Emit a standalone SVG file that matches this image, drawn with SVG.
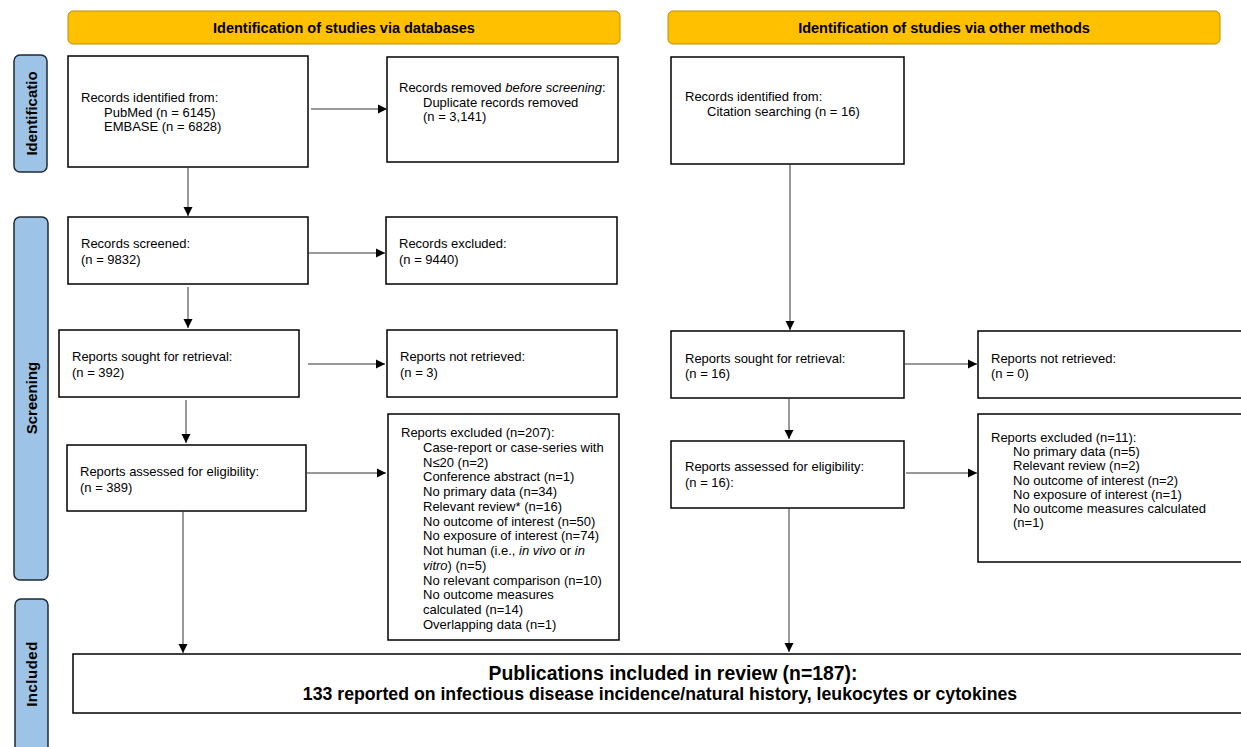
<svg xmlns="http://www.w3.org/2000/svg" width="1241" height="747" viewBox="0 0 1241 747">
<style>
.box{fill:#fff;stroke:#000;stroke-width:1.5}
.hdr{fill:#FFC000;stroke:#BF9000;stroke-width:1}
.side{fill:#9DC3E6;stroke:#1F2A36;stroke-width:1.5}
.t{font-family:"Liberation Sans",Arial,sans-serif;font-size:13px;fill:#000}
.hb{font-family:"Liberation Sans",Arial,sans-serif;font-size:14.5px;font-weight:bold;fill:#000}
.sb{font-family:"Liberation Sans",Arial,sans-serif;font-size:15px;font-weight:bold;fill:#000}
.pb{font-family:"Liberation Sans",Arial,sans-serif;font-size:17.7px;font-weight:bold;fill:#000}
.pb1{font-size:19.4px}
.c{stroke:#333;stroke-width:1;fill:none;marker-end:url(#ah)}
</style>
<defs>
<marker id="ah" markerWidth="10" markerHeight="10" refX="9" refY="5" orient="auto" markerUnits="userSpaceOnUse">
<path d="M0,0.5 L9,5 L0,9.5 Z" fill="#000"/>
</marker>
</defs>
<rect width="1241" height="747" fill="#fff"/>
<g id="hdr-db"><rect class="hdr" x="68" y="11" width="552" height="33" rx="5"/><text class="hb" x="344" y="33" text-anchor="middle">Identification of studies via databases</text></g>
<g id="hdr-other"><rect class="hdr" x="668" y="11" width="552" height="33" rx="5"/><text class="hb" x="944" y="33" text-anchor="middle">Identification of studies via other methods</text></g>
<g id="side-ident"><rect class="side" x="14" y="55" width="33" height="117" rx="6"/><text class="sb" transform="translate(36.5,113.5) rotate(-90)" text-anchor="middle">Identificatio</text></g>
<g id="side-screen"><rect class="side" x="14" y="217" width="34" height="363" rx="6"/><text class="sb" transform="translate(36.5,398) rotate(-90)" text-anchor="middle">Screening</text></g>
<g id="side-incl"><rect class="side" x="15" y="599" width="33" height="160" rx="6"/><text class="sb" transform="translate(37,674) rotate(-90)" text-anchor="middle" letter-spacing="0.5">Included</text></g>
<g id="n-ident"><rect class="box" x="68" y="56" width="240" height="111"/><text class="t" x="81" y="102">Records identified from:</text><text class="t" x="104" y="116.5">PubMed (n = 6145)</text><text class="t" x="104" y="131">EMBASE (n = 6828)</text></g>
<g id="n-removed"><rect class="box" x="387" y="57" width="231" height="105"/><text class="t" x="399" y="92">Records removed <tspan font-style="italic">before screening</tspan>:</text><text class="t" x="423" y="106.5">Duplicate records removed</text><text class="t" x="423" y="121">(n = 3,141)</text></g>
<g id="n-screened"><rect class="box" x="68" y="217" width="240" height="67"/><text class="t" x="81" y="248">Records screened:</text><text class="t" x="81" y="264">(n = 9832)</text></g>
<g id="n-excl1"><rect class="box" x="386" y="217" width="231" height="67"/><text class="t" x="399" y="248">Records excluded:</text><text class="t" x="399" y="264">(n = 9440)</text></g>
<g id="n-sought"><rect class="box" x="59" y="330" width="240" height="67"/><text class="t" x="72" y="361">Reports sought for retrieval:</text><text class="t" x="72" y="377">(n = 392)</text></g>
<g id="n-notret"><rect class="box" x="387" y="330" width="230" height="67"/><text class="t" x="400" y="361">Reports not retrieved:</text><text class="t" x="400" y="377">(n = 3)</text></g>
<g id="n-assessed"><rect class="box" x="67" y="445" width="239" height="66"/><text class="t" x="80" y="476">Reports assessed for eligibility:</text><text class="t" x="80" y="492">(n = 389)</text></g>
<g id="n-excl2"><rect class="box" x="388" y="414" width="231" height="226"/>
<text class="t" x="401" y="437">Reports excluded (n=207):</text>
<text class="t" x="423" y="451.8">Case-report or case-series with</text>
<text class="t" x="423" y="466.5">N≤20 (n=2)</text>
<text class="t" x="423" y="481.3">Conference abstract (n=1)</text>
<text class="t" x="423" y="496">No primary data (n=34)</text>
<text class="t" x="423" y="510.8">Relevant review* (n=16)</text>
<text class="t" x="423" y="525.6">No outcome of interest (n=50)</text>
<text class="t" x="423" y="540.3">No exposure of interest (n=74)</text>
<text class="t" x="423" y="555">Not human (i.e., <tspan font-style="italic">in vivo</tspan> or <tspan font-style="italic">in</tspan></text>
<text class="t" x="423" y="569.8"><tspan font-style="italic">vitro</tspan>) (n=5)</text>
<text class="t" x="423" y="584.6">No relevant comparison (n=10)</text>
<text class="t" x="423" y="599.3">No outcome measures</text>
<text class="t" x="423" y="614">calculated (n=14)</text>
<text class="t" x="423" y="628.8">Overlapping data (n=1)</text>
</g>
<g id="n-ident2"><rect class="box" x="671" y="57" width="233" height="107"/><text class="t" x="685" y="101">Records identified from:</text><text class="t" x="707" y="116">Citation searching (n = 16)</text></g>
<g id="n-sought2"><rect class="box" x="671" y="331" width="233" height="67"/><text class="t" x="685" y="363">Reports sought for retrieval:</text><text class="t" x="685" y="378">(n = 16)</text></g>
<g id="n-notret2"><rect class="box" x="978" y="331" width="270" height="67"/><text class="t" x="991" y="363">Reports not retrieved:</text><text class="t" x="991" y="378">(n = 0)</text></g>
<g id="n-assessed2"><rect class="box" x="671" y="441" width="233" height="67"/><text class="t" x="685" y="471">Reports assessed for eligibility:</text><text class="t" x="685" y="487">(n = 16):</text></g>
<g id="n-excl3"><rect class="box" x="978" y="414" width="270" height="148"/>
<text class="t" x="991" y="442">Reports excluded (n=11):</text>
<text class="t" x="1013" y="456.2">No primary data (n=5)</text>
<text class="t" x="1013" y="470.4">Relevant review (n=2)</text>
<text class="t" x="1013" y="484.6">No outcome of interest (n=2)</text>
<text class="t" x="1013" y="498.8">No exposure of interest (n=1)</text>
<text class="t" x="1013" y="513">No outcome measures calculated</text>
<text class="t" x="1013" y="527.2">(n=1)</text>
</g>
<g id="n-included"><rect class="box" x="73" y="654" width="1180" height="59"/><text class="pb pb1" x="673" y="680" text-anchor="middle">Publications included in review (n=187):</text><text class="pb" x="660" y="700" text-anchor="middle">133 reported on infectious disease incidence/natural history, leukocytes or cytokines</text></g>
<g id="connectors">
<line class="c" x1="311" y1="109" x2="387" y2="109"/>
<line class="c" x1="188" y1="168" x2="188" y2="216"/>
<line class="c" x1="308" y1="253" x2="385" y2="253"/>
<line class="c" x1="188" y1="287" x2="188" y2="328"/>
<line class="c" x1="308" y1="364" x2="385" y2="364"/>
<line class="c" x1="186" y1="400" x2="186" y2="443"/>
<line class="c" x1="306" y1="473" x2="386" y2="473"/>
<line class="c" x1="183" y1="511" x2="183" y2="653"/>
<line class="c" x1="790" y1="164" x2="790" y2="330"/>
<line class="c" x1="904" y1="364" x2="977" y2="364"/>
<line class="c" x1="789" y1="398" x2="789" y2="439"/>
<line class="c" x1="906" y1="473" x2="977" y2="473"/>
<line class="c" x1="789" y1="508" x2="789" y2="652"/>
</g>
</svg>
